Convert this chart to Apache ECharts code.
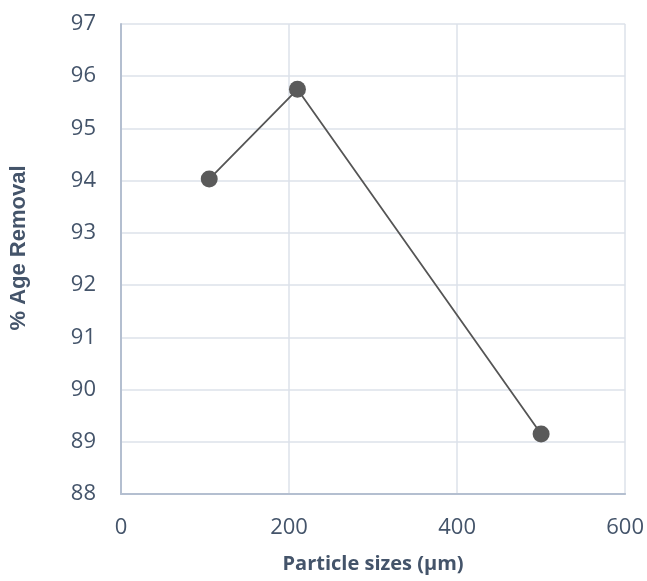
<!DOCTYPE html>
<html><head><meta charset="utf-8">
<script src="https://cdn.jsdelivr.net/npm/echarts@6/dist/echarts.min.js"></script>
<style>html,body{margin:0;padding:0;background:#fff}#c{width:647px;height:581px}</style>
</head><body><div id="c"></div>
<script>
const particleSizes = [105, 210, 500];
const removal = [94.03, 95.75, 89.15];
const xTicks = [0, 200, 400, 600];
const yTicks = [88, 89, 90, 91, 92, 93, 94, 95, 96, 97];

const chart = echarts.init(document.getElementById('c'), null, {renderer: 'canvas'});
const txt = '#44546a';
chart.setOption({
  animation: false,
  grid: {left: 121, right: 21, top: 24, bottom: 87},
  xAxis: {
    type: 'value', min: xTicks[0], max: xTicks[xTicks.length-1], interval: 200,
    name: 'Particle sizes (µm)', nameLocation: 'middle', nameGap: 60,
    nameTextStyle: {fontFamily: 'Open Sans', fontSize: 20, fontWeight: 'bold', color: txt},
    axisLine: {show: true, lineStyle: {color: '#b4bfd0', width: 2}},
    axisTick: {show: false},
    axisLabel: {fontFamily: 'Open Sans', fontSize: 22, color: txt, margin: 23},
    splitLine: {show: true, lineStyle: {color: '#dde2ea', width: 1.5}}
  },
  yAxis: {
    type: 'value', min: yTicks[0], max: yTicks[yTicks.length-1], interval: 1,
    name: '% Age Removal', nameLocation: 'middle', nameGap: 91,
    nameTextStyle: {fontFamily: 'Liberation Sans', fontSize: 22, fontWeight: 'bold', color: txt, padding: [0, 0, 0, 22]},
    axisLine: {show: true, lineStyle: {color: '#b4bfd0', width: 2}},
    axisTick: {show: false},
    axisLabel: {fontFamily: 'Open Sans', fontSize: 22, color: txt, margin: 25},
    splitLine: {show: true, lineStyle: {color: '#dde2ea', width: 1.5}}
  },
  series: [{
    type: 'line',
    data: particleSizes.map((x, i) => [x, removal[i]]),
    symbol: 'circle', symbolSize: 17,
    itemStyle: {color: '#5a5a5a'},
    lineStyle: {color: '#555555', width: 1.8}
  }]
});
</script></body></html>
